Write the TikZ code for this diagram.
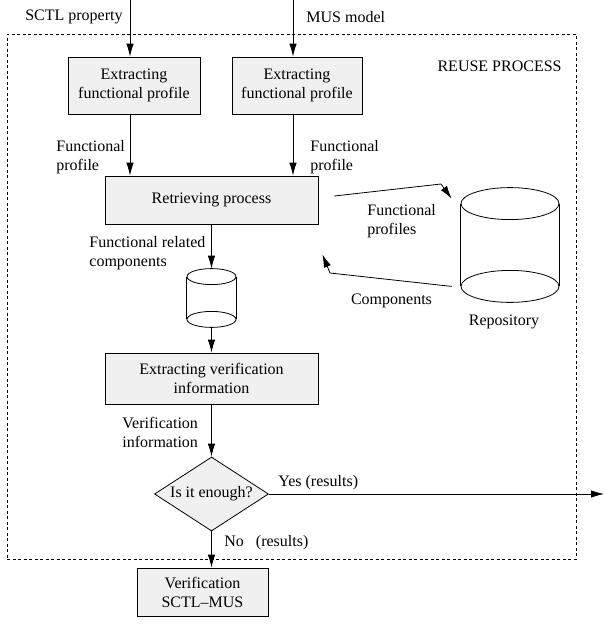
\documentclass[tikz,border=0pt]{standalone}
\usepackage{fontspec}
\setmainfont{Liberation Serif}
\usetikzlibrary {positioning, shapes, arrows.meta}

\begin{document}
\begin{tikzpicture}[x=1pt, y=-1pt, -{Latex[length=13pt,width=7.5pt]},
      line width=0.8pt, font=\fontsize{16}{19}\selectfont,
      proc/.style={rectangle, draw, fill=black!6, inner sep=0pt, align=center},
      dec/.style={diamond, draw, fill=black!6, inner sep=0pt,
        minimum width=114pt, minimum height=74pt},
      lbl/.style={inner sep=0pt, align=left},
      vol/.style={inner sep=0pt}]
      \useasboundingbox (0,0) rectangle (605,624);
      % reuse process frame
      \node[draw, dash pattern=on 3pt off 2.5pt, line width=0.7pt, inner sep=0pt,
        minimum width=569pt, minimum height=525pt] (frame) at(291.5,296.5) {};
      \node[lbl, anchor=east] (reuse) at(562,66) {REUSE PROCESS};
      % inputs
      \coordinate (in_1) at(130,0);
      \coordinate (in_2) at(293,0);
      \node[lbl, anchor=east] (sctl) at(123,17) {SCTL property};
      \node[lbl, anchor=west] (mus) at(306,17) {MUS model};
      \node[proc, minimum width=132pt, minimum height=57pt] (ext_1) at(134,85.5)
        {Extracting\\functional profile};
      \node[proc, minimum width=130pt, minimum height=57pt] (ext_2) at(297,85.5)
        {Extracting\\functional profile};
      \path (in_1) edge (in_1 |- ext_1.north);
      \path (in_2) edge (in_2 |- ext_2.north);
      \node[lbl, anchor=west] (fp_1) at(56,157) {Functional\\profile};
      \node[lbl, anchor=west] (fp_2) at(310,157) {Functional\\profile};
      \node[proc, minimum width=213pt, minimum height=48pt] (retr) at(211.5,200)
        {Retrieving process};
      \path (in_1 |- ext_1.south) edge (in_1 |- retr.north);
      \path (in_2 |- ext_2.south) edge (in_2 |- retr.north);
      % repository
      \node[vol, minimum width=98pt, minimum height=114pt] (repo) at(510,245) {};
      \draw[-] ([yshift=-16pt]repo.north) ellipse (49pt and 16pt);
      \draw[-] ([yshift=16pt]repo.south) ellipse (49pt and 16pt);
      \draw[-] ([yshift=-16pt]repo.north west) -- ([yshift=16pt]repo.south west);
      \draw[-] ([yshift=-16pt]repo.north east) -- ([yshift=16pt]repo.south east);
      \node (repo_l) at(504,322) {Repository};
      \coordinate (fp_bend) at(441,184);
      \coordinate (comp_bend) at(330,273);
      \draw ([shift={(16pt,4pt)}]retr.east) -- (fp_bend)
        -- ([shift={(-9pt,-11pt)}]repo.north west);
      \draw ([shift={(-9pt,16pt)}]repo.south west) -- (comp_bend)
        -- ([shift={(4pt,-30pt)}]retr.south east);
      \node[lbl, anchor=west] (fps) at(367,221) {Functional\\profiles};
      \node[lbl] (comp) at(391.5,301) {Components};
      % related components
      \node[vol, minimum width=49pt, minimum height=58pt] (db) at(211.5,298) {};
      \draw[-] ([yshift=-8pt]db.north) ellipse (24.5pt and 8pt);
      \draw[-] ([yshift=8pt]db.south) ellipse (24.5pt and 8pt);
      \draw[-] ([yshift=-8pt]db.north west) -- ([yshift=8pt]db.south west);
      \draw[-] ([yshift=-8pt]db.north east) -- ([yshift=8pt]db.south east);
      \node[lbl, anchor=west] (frc) at(89,253) {Functional related\\components};
      \path (retr.south) edge (db.north);
      \node[proc, minimum width=213pt, minimum height=51pt] (verinf) at(211.5,378.5)
        {Extracting verification\\information};
      \path (db.south) edge (verinf.north);
      \node[lbl, anchor=west] (vi) at(122,432) {Verification\\information};
      % decision
      \node[dec] (dia) at(211.5,494) {\makebox[0pt]{Is it enough?}};
      \path (verinf.south) edge (dia.north);
      \coordinate (out) at(604,494);
      \path (dia.east) edge (out);
      \node[lbl, anchor=west] (yes) at(278,483) {Yes (results)};
      \node[proc, minimum width=131pt, minimum height=48pt] (veri) at(202.5,592)
        {Verification\\SCTL--MUS};
      \path (dia.south) edge (dia.south |- veri.north);
      \node[lbl, anchor=west] (no) at(224,543) {No~~~(results)};
  \end{tikzpicture}
\end{document}
